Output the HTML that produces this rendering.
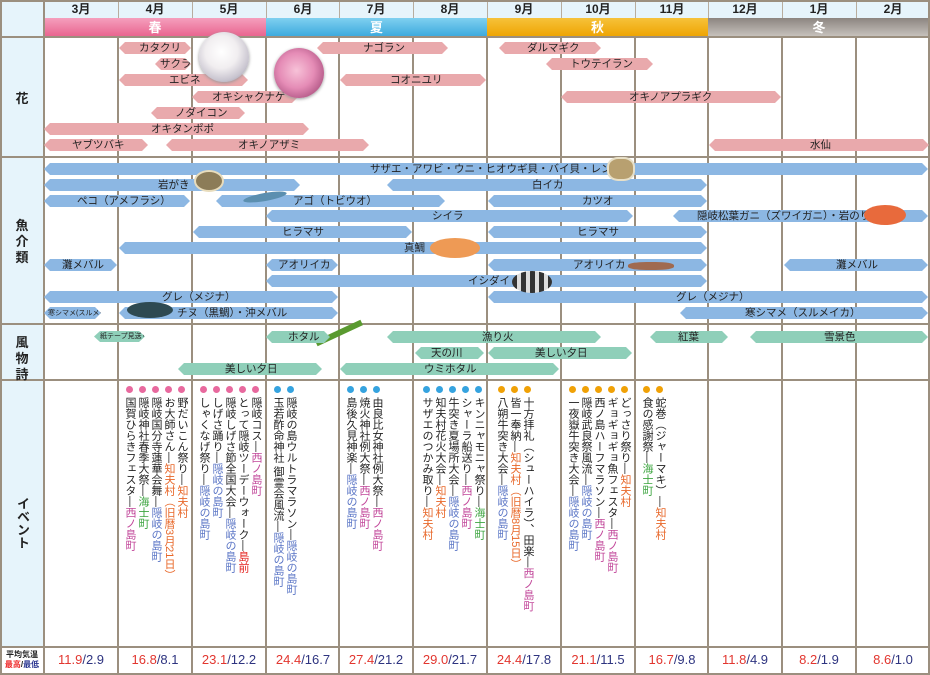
<!DOCTYPE html>
<html><head><meta charset="utf-8">
<style>
*{margin:0;padding:0;box-sizing:border-box}
body{width:930px;height:675px;position:relative;background:#fff;font-family:"Liberation Sans","Noto Sans CJK JP",sans-serif;overflow:hidden;color:#222}
.a{position:absolute}
.vl{position:absolute;top:36px;width:2px;height:639px;background:#9b8f7f}
.vh{position:absolute;top:0;width:1px;height:18px;background:#b8ad9e}
.hl{position:absolute;left:0;width:930px;height:2px;background:#9b8f7f}
.m{position:absolute;top:0;height:18px;line-height:19px;text-align:center;font-size:12px;font-weight:bold;width:74px}
.s{position:absolute;top:18px;height:19px;line-height:19px;text-align:center;color:#fff;font-weight:bold;font-size:13px}
.b{position:absolute;height:12px;line-height:13px;font-size:10.5px;white-space:nowrap;clip-path:polygon(6px 0,calc(100% - 6px) 0,100% 50%,calc(100% - 6px) 100%,6px 100%,0 50%)}
.b span{position:absolute;top:0}
.p{background:#e9a9ac}
.f{background:#8cb7e3}
.g{background:#8fcfb9}
.lab{position:absolute;left:0;width:44px;text-align:center;font-size:13px;font-weight:bold;line-height:16px}
.ev{position:absolute;top:397px;width:13px;writing-mode:vertical-rl;font-size:11px;line-height:13px;white-space:nowrap}
.d{position:absolute;top:386px;width:7px;height:7px;border-radius:50%}
.dp{background:#e8699e}.db{background:#35a3df}.do{background:#f0a106}
.o{color:#e8682a}.bl{color:#5b76c6}.gr{color:#3da540}.mg{color:#c2479a}.rd{color:#e4201c}
.t{position:absolute;top:652px;width:74px;text-align:center;font-size:13px;color:#2e3480}
.t i{font-style:normal;color:#e2362f}
</style></head><body>
<div class="a" style="left:0;top:0;width:930px;height:18px;background:#e6f4fb"></div>
<div class="a" style="left:0;top:0;width:44px;height:675px;background:#e6f4fb"></div>
<div class="a" style="left:0;top:647px;width:44px;height:28px;background:#fff"></div>
<div class="s" style="left:44px;width:222px;background:linear-gradient(#f59fbd,#e8628d)">春</div>
<div class="s" style="left:266px;width:221px;background:linear-gradient(#7fd0f0,#3aa8dd)">夏</div>
<div class="s" style="left:487px;width:221px;background:linear-gradient(#f6c23a,#eea300)">秋</div>
<div class="s" style="left:708px;width:222px;background:linear-gradient(#8c8580,#c9c4bf)">冬</div>
<div class="m" style="left:44px">3月</div><div class="m" style="left:118px">4月</div><div class="m" style="left:192px">5月</div><div class="m" style="left:266px">6月</div><div class="m" style="left:339px">7月</div><div class="m" style="left:413px">8月</div><div class="m" style="left:487px">9月</div><div class="m" style="left:561px">10月</div><div class="m" style="left:635px">11月</div><div class="m" style="left:708px">12月</div><div class="m" style="left:782px">1月</div><div class="m" style="left:856px">2月</div>
<div class="vh" style="left:118px"></div><div class="vh" style="left:192px"></div><div class="vh" style="left:266px"></div><div class="vh" style="left:339px"></div><div class="vh" style="left:413px"></div><div class="vh" style="left:487px"></div><div class="vh" style="left:561px"></div><div class="vh" style="left:635px"></div><div class="vh" style="left:708px"></div><div class="vh" style="left:782px"></div><div class="vh" style="left:856px"></div>
<div class="vl" style="left:0;top:0;height:675px"></div><div class="vl" style="left:43px;top:0;height:675px"></div><div class="vl" style="left:117px"></div><div class="vl" style="left:191px"></div><div class="vl" style="left:265px"></div><div class="vl" style="left:338px"></div><div class="vl" style="left:412px"></div><div class="vl" style="left:486px"></div><div class="vl" style="left:560px"></div><div class="vl" style="left:634px"></div><div class="vl" style="left:707px"></div><div class="vl" style="left:781px"></div><div class="vl" style="left:855px"></div><div class="vl" style="left:928px;top:0;height:675px"></div>
<div class="hl" style="top:0"></div><div class="hl" style="top:36px"></div><div class="hl" style="top:156px"></div><div class="hl" style="top:323px"></div><div class="hl" style="top:379px"></div><div class="hl" style="top:646px"></div><div class="hl" style="top:673px"></div>
<div class="lab" style="top:91px">花</div>
<div class="lab" style="top:218px">魚<br>介<br>類</div>
<div class="lab" style="top:335px">風<br>物<br>詩</div>
<div class="lab" style="top:497px;writing-mode:vertical-rl;width:44px;line-height:44px">イベント</div>
<div class="a" style="left:2px;top:650px;width:40px;font-size:8px;font-weight:bold;line-height:10px;text-align:center">平均気温<br><span style="color:#e22">最高</span>/<span style="color:#2a3590">最低</span></div>
<div class="b p" style="left:119px;top:42px;width:72px"><span style="left:20px">カタクリ</span></div>
<div class="b p" style="left:155px;top:58px;width:36px"><span style="left:5px">サクラ</span></div>
<div class="b p" style="left:119px;top:74px;width:129px"><span style="left:50px">エビネ</span></div>
<div class="b p" style="left:192px;top:91px;width:106px"><span style="left:20px">オキシャクナゲ</span></div>
<div class="b p" style="left:151px;top:107px;width:94px"><span style="left:24px">ノダイコン</span></div>
<div class="b p" style="left:44px;top:123px;width:265px"><span style="left:107px">オキタンポポ</span></div>
<div class="b p" style="left:44px;top:139px;width:104px"><span style="left:28px">ヤブツバキ</span></div>
<div class="b p" style="left:166px;top:139px;width:203px"><span style="left:72px">オキノアザミ</span></div>
<div class="b p" style="left:317px;top:42px;width:131px"><span style="left:46px">ナゴラン</span></div>
<div class="b p" style="left:340px;top:74px;width:146px"><span style="left:50px">コオニユリ</span></div>
<div class="b p" style="left:499px;top:42px;width:102px"><span style="left:28px">ダルマギク</span></div>
<div class="b p" style="left:546px;top:58px;width:107px"><span style="left:24px">トウテイラン</span></div>
<div class="b p" style="left:561px;top:91px;width:220px"><span style="left:68px">オキノアプラギク</span></div>
<div class="b p" style="left:709px;top:139px;width:220px"><span style="left:101px">水仙</span></div>
<div class="a" style="left:199px;top:32px;width:50px;height:50px;border-radius:50%;background:radial-gradient(circle at 45% 40%,#fff 0,#f1eef0 40%,#c8c4cf 70%,#7b7f95 100%);box-shadow:0 1px 3px #999"></div>
<div class="a" style="left:274px;top:48px;width:50px;height:50px;border-radius:50%;background:radial-gradient(circle at 45% 45%,#f7c2d8 0,#e58cb6 45%,#b65c8a 75%,#4a4a30 100%);box-shadow:0 1px 3px #999"></div>
<div class="b f" style="left:44px;top:163px;width:884px"><span style="left:326px">サザエ・アワビ・ウニ・ヒオウギ貝・バイ貝・レンコ鯛</span></div>
<div class="b f" style="left:44px;top:179px;width:256px"><span style="left:114px">岩がき</span></div>
<div class="b f" style="left:387px;top:179px;width:320px"><span style="left:145px">白イカ</span></div>
<div class="b f" style="left:44px;top:195px;width:146px"><span style="left:33px">ペコ（アメフラシ）</span></div>
<div class="b f" style="left:216px;top:195px;width:229px"><span style="left:77px">アゴ（トビウオ）</span></div>
<div class="b f" style="left:488px;top:195px;width:219px"><span style="left:94px">カツオ</span></div>
<div class="b f" style="left:266px;top:210px;width:367px"><span style="left:166px">シイラ</span></div>
<div class="b f" style="left:673px;top:210px;width:255px"><span style="left:24px">隠岐松葉ガニ（ズワイガニ）・岩のり</span></div>
<div class="b f" style="left:193px;top:226px;width:219px"><span style="left:89px">ヒラマサ</span></div>
<div class="b f" style="left:488px;top:226px;width:219px"><span style="left:89px">ヒラマサ</span></div>
<div class="b f" style="left:119px;top:242px;width:588px"><span style="left:285px">真鯛</span></div>
<div class="b f" style="left:44px;top:259px;width:73px"><span style="left:18px">灘メバル</span></div>
<div class="b f" style="left:784px;top:259px;width:144px"><span style="left:52px">灘メバル</span></div>
<div class="b f" style="left:266px;top:259px;width:72px"><span style="left:12px">アオリイカ</span></div>
<div class="b f" style="left:488px;top:259px;width:219px"><span style="left:85px">アオリイカ</span></div>
<div class="b f" style="left:266px;top:275px;width:441px"><span style="left:202px">イシダイ</span></div>
<div class="b f" style="left:44px;top:291px;width:294px"><span style="left:118px">グレ（メジナ）</span></div>
<div class="b f" style="left:488px;top:291px;width:440px"><span style="left:188px">グレ（メジナ）</span></div>
<div class="b f" style="left:44px;top:307px;width:57px"><span style="left:4px;font-size:7px">寒シマメ(スルメイカ)</span></div>
<div class="b f" style="left:119px;top:307px;width:219px"><span style="left:58px">チヌ（黒鯛）・沖メバル</span></div>
<div class="b f" style="left:680px;top:307px;width:248px"><span style="left:65px">寒シマメ（スルメイカ）</span></div>
<div class="a" style="left:194px;top:170px;width:30px;height:22px;border-radius:50%;background:#8c7c58;border:2px solid #e8dcbc"></div>
<div class="a" style="left:243px;top:193px;width:44px;height:8px;border-radius:50%;background:#5b8fb0;transform:rotate(-10deg)"></div>
<div class="a" style="left:607px;top:157px;width:28px;height:24px;border-radius:40%;background:#b8a070;border:2px solid #e8e0c8"></div>
<div class="a" style="left:864px;top:205px;width:42px;height:20px;border-radius:50%;background:#e86a3c"></div>
<div class="a" style="left:430px;top:238px;width:50px;height:20px;border-radius:50%;background:#ee9a55"></div>
<div class="a" style="left:628px;top:262px;width:46px;height:8px;border-radius:40%;background:#a06a50"></div>
<div class="a" style="left:512px;top:271px;width:40px;height:22px;border-radius:50%;background:repeating-linear-gradient(90deg,#333 0 5px,#ddd 5px 9px)"></div>
<div class="a" style="left:127px;top:302px;width:46px;height:16px;border-radius:50%;background:#2e4a52"></div>
<div class="a" style="left:314px;top:330px;width:50px;height:6px;background:#5a9a30;transform:rotate(-25deg)"></div>
<div class="b g" style="left:94px;top:331px;width:51px;height:11px;line-height:11px"><span style="left:6px;font-size:7px">紙テープ見送り</span></div>
<div class="b g" style="left:266px;top:331px;width:64px"><span style="left:22px">ホタル</span></div>
<div class="b g" style="left:387px;top:331px;width:214px"><span style="left:95px">漁り火</span></div>
<div class="b g" style="left:650px;top:331px;width:78px"><span style="left:28px">紅葉</span></div>
<div class="b g" style="left:750px;top:331px;width:178px"><span style="left:74px">雪景色</span></div>
<div class="b g" style="left:415px;top:347px;width:69px"><span style="left:16px">天の川</span></div>
<div class="b g" style="left:488px;top:347px;width:144px"><span style="left:47px">美しい夕日</span></div>
<div class="b g" style="left:178px;top:363px;width:144px"><span style="left:47px">美しい夕日</span></div>
<div class="b g" style="left:340px;top:363px;width:219px"><span style="left:84px">ウミホタル</span></div>
<div class="d dp" style="left:178px"></div><div class="ev" style="left:175px">野だいこん祭り―<span class="o">知夫村</span></div>
<div class="d dp" style="left:165px"></div><div class="ev" style="left:162px">お大師さん―<span class="o">知夫村（旧暦3月21日）</span></div>
<div class="d dp" style="left:152px"></div><div class="ev" style="left:149px">隠岐国分寺蓮華会舞―<span class="bl">隠岐の島町</span></div>
<div class="d dp" style="left:139px"></div><div class="ev" style="left:136px">隠岐神社春季大祭―<span class="gr">海士町</span></div>
<div class="d dp" style="left:126px"></div><div class="ev" style="left:123px">国賀ひらきフェスタ―<span class="mg">西ノ島町</span></div>
<div class="d dp" style="left:252px"></div><div class="ev" style="left:249px">隠岐コス―<span class="mg">西ノ島町</span></div>
<div class="d dp" style="left:239px"></div><div class="ev" style="left:236px">とって隠岐ツーデーウォーク―<span class="rd">島前</span></div>
<div class="d dp" style="left:226px"></div><div class="ev" style="left:223px">隠岐しげさ節全国大会―<span class="bl">隠岐の島町</span></div>
<div class="d dp" style="left:213px"></div><div class="ev" style="left:210px">しげさ踊り―<span class="bl">隠岐の島町</span></div>
<div class="d dp" style="left:200px"></div><div class="ev" style="left:197px">しゃくなげ祭り―<span class="bl">隠岐の島町</span></div>
<div class="d db" style="left:287px"></div><div class="ev" style="left:284px">隠岐の島ウルトラマラソン―<span class="bl">隠岐の島町</span></div>
<div class="d db" style="left:274px"></div><div class="ev" style="left:271px">玉若酢命神社 御霊会風流―<span class="bl">隠岐の島町</span></div>
<div class="d db" style="left:373px"></div><div class="ev" style="left:370px">由良比女神社例大祭―<span class="mg">西ノ島町</span></div>
<div class="d db" style="left:360px"></div><div class="ev" style="left:357px">焼火神社例大祭―<span class="mg">西ノ島町</span></div>
<div class="d db" style="left:347px"></div><div class="ev" style="left:344px">島後久見神楽―<span class="bl">隠岐の島町</span></div>
<div class="d db" style="left:475px"></div><div class="ev" style="left:472px">キンニャモニャ祭り―<span class="gr">海士町</span></div>
<div class="d db" style="left:462px"></div><div class="ev" style="left:459px">シャーラ船送り―<span class="mg">西ノ島町</span></div>
<div class="d db" style="left:449px"></div><div class="ev" style="left:446px">牛突き夏場所大会―<span class="bl">隠岐の島町</span></div>
<div class="d db" style="left:436px"></div><div class="ev" style="left:433px">知夫村花火大会―<span class="o">知夫村</span></div>
<div class="d db" style="left:423px"></div><div class="ev" style="left:420px">サザエのつかみ取り―<span class="o">知夫村</span></div>
<div class="d do" style="left:524px"></div><div class="ev" style="left:521px">十方拝礼（シューハイラ）、田楽―<span class="mg">西ノ島町</span></div>
<div class="d do" style="left:511px"></div><div class="ev" style="left:508px">皆一奉納―<span class="o">知夫村（旧暦8月15日）</span></div>
<div class="d do" style="left:498px"></div><div class="ev" style="left:495px">八朔牛突き大会―<span class="bl">隠岐の島町</span></div>
<div class="d do" style="left:621px"></div><div class="ev" style="left:618px">どっさり祭り―<span class="o">知夫村</span></div>
<div class="d do" style="left:608px"></div><div class="ev" style="left:605px">ギョギョギョ魚フェスタ―<span class="mg">西ノ島町</span></div>
<div class="d do" style="left:595px"></div><div class="ev" style="left:592px">西ノ島ハーフマラソン―<span class="mg">西ノ島町</span></div>
<div class="d do" style="left:582px"></div><div class="ev" style="left:579px">隠岐武良祭風流―<span class="bl">隠岐の島町</span></div>
<div class="d do" style="left:569px"></div><div class="ev" style="left:566px">一夜嶽牛突き大会―<span class="bl">隠岐の島町</span></div>
<div class="d do" style="left:656px"></div><div class="ev" style="left:653px">蛇巻（ジャーマキ）―<span class="o">知夫村</span></div>
<div class="d do" style="left:643px"></div><div class="ev" style="left:640px">食の感謝祭―<span class="gr">海士町</span></div>
<div class="t" style="left:44px"><i>11.9</i>/2.9</div>
<div class="t" style="left:118px"><i>16.8</i>/8.1</div>
<div class="t" style="left:192px"><i>23.1</i>/12.2</div>
<div class="t" style="left:266px"><i>24.4</i>/16.7</div>
<div class="t" style="left:339px"><i>27.4</i>/21.2</div>
<div class="t" style="left:413px"><i>29.0</i>/21.7</div>
<div class="t" style="left:487px"><i>24.4</i>/17.8</div>
<div class="t" style="left:561px"><i>21.1</i>/11.5</div>
<div class="t" style="left:635px"><i>16.7</i>/9.8</div>
<div class="t" style="left:708px"><i>11.8</i>/4.9</div>
<div class="t" style="left:782px"><i>8.2</i>/1.9</div>
<div class="t" style="left:856px"><i>8.6</i>/1.0</div>
</body></html>
